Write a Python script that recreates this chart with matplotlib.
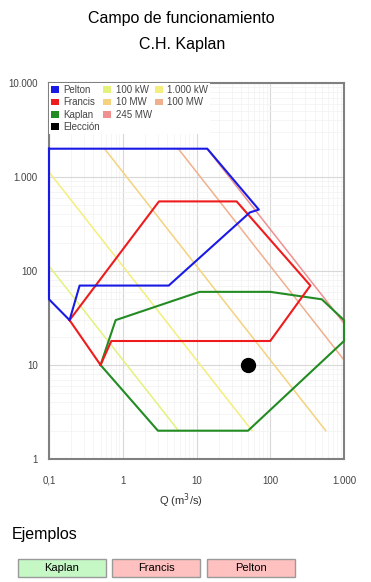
import matplotlib.pyplot as plt
from matplotlib.patches import Patch, Rectangle
from matplotlib.ticker import FixedLocator, NullFormatter

plt.rcParams['font.family'] = ['Liberation Sans', 'DejaVu Sans']

# operating envelopes (Q in m3/s, H in m)
pelton_q = [0.1, 14, 70, 53, 4.2, 0.26, 0.19, 0.1, 0.1]
pelton_h = [2000, 2000, 450, 420, 70, 70, 30, 50, 2000]

francis_q = [0.19, 3.1, 35, 350, 100, 0.7, 0.5, 0.19]
francis_h = [30, 550, 550, 70, 18, 18, 10, 30]

kaplan_q = [0.5, 0.8, 11, 100, 500, 1000, 1000, 50, 3, 0.5]
kaplan_h = [10, 30, 60, 60, 50, 30, 18, 2, 2, 10]

# constant power lines (end points)
power_labels = ['100 kW', '1.000 kW', '10 MW', '100 MW', '245 MW']
power_q = [[0.1, 5.7], [0.1, 56.6], [0.566, 566], [5.66, 1000], [13.9, 1000]]
power_h = [[113, 2], [1130, 2], [2000, 2], [2000, 11.3], [2000, 27.8]]
power_colors = ['#e4f27c', '#f4ee7c', '#f4d27e', '#f0b08e', '#f09090']

choice_q = [50]
choice_h = [10]

x_ticks = [0.1, 1, 10, 100, 1000]
x_labels = ['0,1', '1', '10', '100', '1.000']
y_ticks = [1, 10, 100, 1000, 10000]
y_labels = ['1', '10', '100', '1.000', '10.000']

fig = plt.figure(figsize=(3.71, 5.82), dpi=100)
ax = fig.add_axes([49 / 371, 123 / 582, 295 / 371, 376 / 582])
ax.set_xscale('log')
ax.set_yscale('log')
ax.set_xlim(0.1, 1000)
ax.set_ylim(1, 10000)

for q, h, c in zip(power_q, power_h, power_colors):
    ax.plot(q, h, color=c, lw=1.1, zorder=2)

ax.plot(kaplan_q, kaplan_h, color='#228b22', lw=1.5, zorder=3, clip_on=False)
ax.plot(francis_q, francis_h, color='#ee1c1c', lw=1.5, zorder=3, clip_on=False)
ax.plot(pelton_q, pelton_h, color='#1a1ae6', lw=1.5, zorder=4, clip_on=False)
ax.plot(choice_q, choice_h, 'o', color='black', ms=10, zorder=5)

ax.xaxis.set_major_locator(FixedLocator(x_ticks))
ax.set_xticklabels(x_labels)
ax.yaxis.set_major_locator(FixedLocator(y_ticks))
ax.set_yticklabels(y_labels)
ax.xaxis.set_minor_formatter(NullFormatter())
ax.yaxis.set_minor_formatter(NullFormatter())
ax.tick_params(which='both', length=0, labelsize=7, colors='#444444')
ax.tick_params(axis='x', pad=12)
ax.tick_params(axis='y', pad=8)
ax.grid(True, which='major', color='#d8d8d8', lw=0.8)
ax.grid(True, which='minor', color='#f1f1f1', lw=0.5)
ax.set_axisbelow(True)
for s in ax.spines.values():
    s.set_color('#808080')
    s.set_linewidth(1.5)

ax.set_xlabel('Q (m$^3$/s)', fontsize=8, color='#333333')
ax.xaxis.set_label_coords(0.447, -0.085)

blank = Patch(facecolor='none', edgecolor='none')
handles = [
    Patch(facecolor='#1a1ae6'), Patch(facecolor='#ee1c1c'),
    Patch(facecolor='#228b22'), Patch(facecolor='black'),
    Patch(facecolor=power_colors[0]), Patch(facecolor=power_colors[2]),
    Patch(facecolor=power_colors[4]),
    Patch(facecolor=power_colors[1]), Patch(facecolor=power_colors[3]),
    blank,
]
labels = ['Pelton', 'Francis', 'Kaplan', 'Elección',
          power_labels[0], power_labels[2], power_labels[4],
          power_labels[1], power_labels[3], '']
leg = ax.legend(handles, labels, loc='upper left', ncol=3, fontsize=7,
                frameon=True, framealpha=1, edgecolor='none', fancybox=False,
                borderaxespad=0.0, borderpad=0.2, handlelength=0.8,
                handleheight=0.7, handletextpad=0.5, columnspacing=0.3,
                labelspacing=0.25, labelcolor='#444444')
leg.set_zorder(6)

fig.text(0.49, 1 - 18 / 582, 'Campo de funcionamiento', ha='center',
         va='center', fontsize=11.5)
fig.text(0.49, 1 - 45 / 582, 'C.H. Kaplan', ha='center', va='center',
         fontsize=11.5)
fig.text(12 / 371, 1 - 535 / 582, 'Ejemplos', ha='left', va='center',
         fontsize=11.5)

buttons = [('Kaplan', 18, '#c6f8c6'), ('Francis', 112, '#ffc0c0'),
           ('Pelton', 207, '#ffc0c0')]
for name, x0, col in buttons:
    fig.patches.append(Rectangle((x0 / 371, 1 - 577 / 582), 88 / 371, 18 / 582,
                                 transform=fig.transFigure, facecolor=col,
                                 edgecolor='#9a9a9a', lw=1))
    fig.text((x0 + 44) / 371, 1 - 568 / 582, name, ha='center', va='center',
             fontsize=8)

fig.savefig('out.png', dpi=100)
